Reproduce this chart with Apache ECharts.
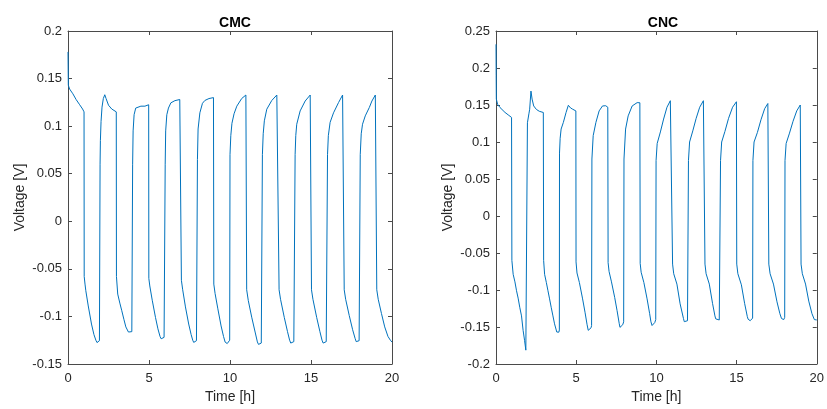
<!DOCTYPE html>
<html>
<head>
<meta charset="utf-8">
<script src="https://cdn.jsdelivr.net/npm/echarts@6/dist/echarts.min.js"></script>
<style>
html,body{margin:0;padding:0;background:#fff;}
#chart{width:827px;height:409px;}
</style>
</head>
<body>
<div id="chart"></div>
<script>
// ---- data ----
var titles = ['CMC', 'CNC'];
var xTicks = [0, 5, 10, 15, 20];
var cmcYTicks = [-0.15, -0.1, -0.05, 0, 0.05, 0.1, 0.15, 0.2];
var cncYTicks = [-0.2, -0.15, -0.1, -0.05, 0, 0.05, 0.1, 0.15, 0.2, 0.25];

var cmcTime = [
  0, 0.02, 0.1, 0.3, 0.5, 0.7, 0.9, 0.99,
  1.0, 1.05, 1.1, 1.25, 1.45, 1.6, 1.72, 1.79, 1.84, 1.89, 1.94, 1.97,
  1.98, 2.0, 2.04, 2.1, 2.18, 2.27, 2.35, 2.5, 2.7, 2.98,
  2.99, 3.07, 3.2, 3.32, 3.45, 3.57, 3.73, 3.84, 3.94, 3.97,
  3.99, 4.02, 4.08, 4.18, 4.3, 4.5, 4.75, 4.82, 4.98,
  4.99, 5.05, 5.2, 5.4, 5.55, 5.68, 5.75, 5.8, 5.86, 5.93, 5.98,
  6.0, 6.03, 6.1, 6.2, 6.35, 6.6, 6.9, 6.99,
  7.0, 7.08, 7.25, 7.45, 7.6, 7.7, 7.76, 7.8, 7.86, 7.93, 7.97,
  7.99, 8.03, 8.14, 8.3, 8.45, 8.7, 8.98,
  9.0, 9.08, 9.25, 9.45, 9.6, 9.7, 9.74, 9.77, 9.83, 9.92, 9.98,
  10.0, 10.05, 10.12, 10.25, 10.42, 10.72, 10.98,
  11.03, 11.13, 11.34, 11.55, 11.69, 11.76, 11.81, 11.87, 11.93, 11.97,
  12.0, 12.05, 12.12, 12.27, 12.58, 12.89, 12.99,
  13.03, 13.12, 13.35, 13.55, 13.68, 13.75, 13.8, 13.86, 13.94, 14.0,
  14.02, 14.06, 14.12, 14.33, 14.64, 14.95, 15.0,
  15.03, 15.12, 15.35, 15.55, 15.68, 15.75, 15.8, 15.86, 15.94, 16.0,
  16.02, 16.07, 16.18, 16.39, 16.7, 16.95, 17.0,
  17.05, 17.14, 17.36, 17.57, 17.72, 17.79, 17.84, 17.9, 17.97, 18.02,
  18.04, 18.1, 18.18, 18.35, 18.6, 18.76, 18.97, 19.03,
  19.06, 19.15, 19.35, 19.55, 19.75, 19.9, 20.0
];
var cmcVoltage = [
  0.178, 0.143, 0.139, 0.134, 0.128, 0.123, 0.118, 0.115,
  -0.058, -0.066, -0.073, -0.089, -0.108, -0.119, -0.125, -0.1275, -0.128, -0.1275, -0.1255, -0.124,
  0.060, 0.085, 0.105, 0.120, 0.129, 0.133, 0.129, 0.122, 0.118, 0.115,
  -0.058, -0.0765, -0.086, -0.094, -0.103, -0.111, -0.1164, -0.1174, -0.116, -0.115,
  0.06, 0.095, 0.112, 0.119, 0.1205, 0.121, 0.121, 0.1225, 0.1225,
  -0.06, -0.068, -0.083, -0.101, -0.113, -0.121, -0.1235, -0.124, -0.1235, -0.122, -0.121,
  0.06, 0.095, 0.112, 0.119, 0.1245, 0.1268, 0.128, 0.1285,
  -0.062, -0.072, -0.09, -0.108, -0.119, -0.125, -0.1273, -0.128, -0.1273, -0.1255, -0.124,
  0.065, 0.097, 0.114, 0.124, 0.127, 0.129, 0.130,
  -0.066, -0.076, -0.092, -0.11, -0.121, -0.127, -0.1285, -0.129, -0.1285, -0.1265, -0.125,
  0.07, 0.09, 0.103, 0.113, 0.121, 0.129, 0.1327,
  -0.072, -0.0834, -0.1008, -0.1164, -0.1268, -0.1294, -0.130, -0.1295, -0.128, -0.126,
  0.07, 0.092, 0.1056, 0.1178, 0.127, 0.1327, 0.133,
  -0.072, -0.082, -0.101, -0.116, -0.125, -0.128, -0.129, -0.1285, -0.1265, -0.125,
  0.07, 0.09, 0.102, 0.116, 0.1264, 0.1327, 0.133,
  -0.072, -0.082, -0.101, -0.116, -0.125, -0.128, -0.129, -0.1285, -0.1265, -0.125,
  0.07, 0.09, 0.104, 0.114, 0.1248, 0.1327, 0.133,
  -0.072, -0.082, -0.099, -0.114, -0.123, -0.1265, -0.1275, -0.127, -0.1255, -0.124,
  0.07, 0.092, 0.102, 0.1108, 0.1196, 0.1264, 0.1327, 0.133,
  -0.072, -0.082, -0.097, -0.111, -0.121, -0.125, -0.127
];

var cncTime = [
  0, 0.01, 0.02, 0.1, 0.25, 0.56, 0.8, 0.97,
  0.99, 1.07, 1.18, 1.28, 1.38, 1.48, 1.59, 1.69, 1.78, 1.86, 1.9, 1.94,
  1.96, 2.05, 2.1, 2.18, 2.25, 2.35, 2.52, 2.7, 2.95,
  2.97, 3.03, 3.14, 3.24, 3.34, 3.44, 3.55, 3.65, 3.79, 3.85, 3.92, 3.95,
  3.96, 4.0, 4.06, 4.2, 4.37, 4.51, 4.65, 4.78, 4.98,
  4.99, 5.05, 5.2, 5.4, 5.55, 5.68, 5.75, 5.81, 5.87, 5.93, 5.96,
  5.98, 6.06, 6.23, 6.43, 6.64, 6.84, 6.97,
  6.99, 7.05, 7.2, 7.4, 7.55, 7.68, 7.73, 7.77, 7.83, 7.9, 7.96,
  7.98, 8.08, 8.24, 8.49, 8.8, 8.97,
  8.99, 9.05, 9.22, 9.42, 9.58, 9.66, 9.73, 9.8, 9.9, 9.96,
  9.98, 10.05, 10.25, 10.45, 10.66, 10.87, 10.99,
  11.01, 11.08, 11.28, 11.48, 11.69, 11.74, 11.79, 11.86, 11.94, 11.98,
  12.0, 12.07, 12.27, 12.48, 12.7, 12.93, 13.01,
  13.03, 13.1, 13.3, 13.5, 13.65, 13.7, 13.75, 13.82, 13.92, 13.98,
  14.0, 14.07, 14.27, 14.5, 14.75, 14.99,
  15.01, 15.08, 15.3, 15.5, 15.67, 15.72, 15.77, 15.85, 15.94, 16.0,
  16.02, 16.09, 16.3, 16.52, 16.75, 16.95, 17.0,
  17.01, 17.09, 17.3, 17.52, 17.7, 17.8, 17.88, 17.94, 18.0,
  18.02, 18.09, 18.3, 18.52, 18.75, 18.97, 19.0,
  19.02, 19.1, 19.3, 19.5, 19.7, 19.85, 19.94, 20.0
];
var cncVoltage = [
  0.232, 0.19, 0.158, 0.151, 0.1466, 0.140, 0.136, 0.1332,
  -0.06, -0.0788, -0.089, -0.101, -0.111, -0.1233, -0.135, -0.1545, -0.168, -0.1813, -0.1836, -0.181,
  0.126, 0.138, 0.1443, 0.1688, 0.158, 0.1487, 0.144, 0.1415, 0.1399,
  -0.06, -0.0788, -0.09, -0.101, -0.112, -0.1233, -0.135, -0.1457, -0.1568, -0.159, -0.157, -0.154,
  0.085, 0.105, 0.1175, 0.1265, 0.140, 0.1496, 0.146, 0.1443, 0.142,
  -0.062, -0.077, -0.09, -0.112, -0.13, -0.147, -0.1545, -0.157, -0.1555, -0.151, -0.148,
  0.077, 0.1086, 0.1265, 0.142, 0.1487, 0.149, 0.147,
  -0.063, -0.075, -0.089, -0.11, -0.128, -0.145, -0.1505, -0.152, -0.1505, -0.147, -0.143,
  0.077, 0.1175, 0.1353, 0.1487, 0.1532, 0.153,
  -0.064, -0.076, -0.09, -0.112, -0.132, -0.143, -0.148, -0.1472, -0.144, -0.14,
  0.075, 0.098, 0.1136, 0.131, 0.147, 0.1558, 0.155,
  -0.065, -0.078, -0.092, -0.1187, -0.1387, -0.1428, -0.1444, -0.1438, -0.1415, -0.14,
  0.075, 0.1, 0.115, 0.132, 0.147, 0.1558, 0.155,
  -0.065, -0.078, -0.092, -0.118, -0.135, -0.139, -0.1413, -0.1415, -0.1405, -0.138,
  0.075, 0.1, 0.114, 0.132, 0.147, 0.1544,
  -0.065, -0.078, -0.093, -0.118, -0.136, -0.1395, -0.1413, -0.1415, -0.1405, -0.138,
  0.075, 0.1, 0.113, 0.13, 0.145, 0.152, 0.1515,
  -0.065, -0.078, -0.092, -0.116, -0.132, -0.1385, -0.1404, -0.14, -0.137,
  0.075, 0.098, 0.112, 0.128, 0.142, 0.150, 0.1495,
  -0.065, -0.078, -0.092, -0.115, -0.132, -0.14, -0.141, -0.1405
];

// ---- chart ----
function zip(a, b) { return a.map(function (v, i) { return [v, b[i]]; }); }

var FONT = 'Liberation Sans, Arial, Helvetica, sans-serif';
var AXC = '#4a4a4a';
var TXT = '#262626';

function fmt(v) { return String(+v.toFixed(4)); }

function mainX(grid, ticks) {
  return {
    type: 'value', gridIndex: grid, position: 'bottom',
    min: ticks[0], max: ticks[ticks.length - 1], interval: ticks[1] - ticks[0],
    name: 'Time [h]', nameLocation: 'middle', nameGap: 26,
    nameTextStyle: { fontFamily: FONT, fontSize: 14, color: TXT },
    axisLine: { show: true, onZero: false, lineStyle: { color: AXC, width: 1 } },
    axisTick: { show: true, inside: true, length: 4, lineStyle: { color: AXC } },
    axisLabel: { show: true, margin: 8, fontFamily: FONT, fontSize: 13, color: TXT, formatter: fmt },
    splitLine: { show: false }
  };
}
function topX(grid, ticks) {
  return {
    type: 'value', gridIndex: grid, position: 'top',
    min: ticks[0], max: ticks[ticks.length - 1], interval: ticks[1] - ticks[0],
    axisLine: { show: true, onZero: false, lineStyle: { color: AXC, width: 1 } },
    axisTick: { show: true, inside: true, length: 4, lineStyle: { color: AXC } },
    axisLabel: { show: false }, splitLine: { show: false }
  };
}
function mainY(grid, ticks) {
  return {
    type: 'value', gridIndex: grid, position: 'left',
    min: ticks[0], max: ticks[ticks.length - 1], interval: 0.05,
    name: 'Voltage [V]', nameLocation: 'middle', nameGap: 41, nameRotate: 90,
    nameTextStyle: { fontFamily: FONT, fontSize: 14, color: TXT },
    axisLine: { show: true, onZero: false, lineStyle: { color: AXC, width: 1 } },
    axisTick: { show: true, inside: true, length: 4, lineStyle: { color: AXC } },
    axisLabel: { show: true, margin: 6, fontFamily: FONT, fontSize: 13, color: TXT, formatter: fmt },
    splitLine: { show: false }
  };
}
function rightY(grid, ticks) {
  return {
    type: 'value', gridIndex: grid, position: 'right',
    min: ticks[0], max: ticks[ticks.length - 1], interval: 0.05,
    axisLine: { show: true, onZero: false, lineStyle: { color: AXC, width: 1 } },
    axisTick: { show: true, inside: true, length: 4, lineStyle: { color: AXC } },
    axisLabel: { show: false }, splitLine: { show: false }
  };
}

var chart = echarts.init(document.getElementById('chart'), null, { renderer: 'canvas' });
chart.setOption({
  animation: false,
  backgroundColor: '#ffffff',
  title: [
    { text: titles[0], left: 230, top: 11, textAlign: 'center',
      textStyle: { fontFamily: FONT, fontSize: 14, fontWeight: 'bold', color: '#000' } },
    { text: titles[1], left: 658, top: 11, textAlign: 'center',
      textStyle: { fontFamily: FONT, fontSize: 14, fontWeight: 'bold', color: '#000' } }
  ],
  grid: [
    { left: 68, top: 31, width: 324, height: 336, containLabel: false },
    { left: 496, top: 31, width: 323, height: 336, containLabel: false }
  ],
  xAxis: [mainX(0, xTicks), topX(0, xTicks), mainX(1, xTicks), topX(1, xTicks)],
  yAxis: [mainY(0, cmcYTicks), rightY(0, cmcYTicks), mainY(1, cncYTicks), rightY(1, cncYTicks)],
  series: [
    { type: 'line', xAxisIndex: 0, yAxisIndex: 0, data: zip(cmcTime, cmcVoltage),
      showSymbol: false, smooth: false, lineStyle: { color: '#0072BD', width: 1 }, itemStyle: { color: '#0072BD' } },
    { type: 'line', xAxisIndex: 2, yAxisIndex: 2, data: zip(cncTime, cncVoltage),
      showSymbol: false, smooth: false, lineStyle: { color: '#0072BD', width: 1 }, itemStyle: { color: '#0072BD' } }
  ]
});
</script>
</body>
</html>
